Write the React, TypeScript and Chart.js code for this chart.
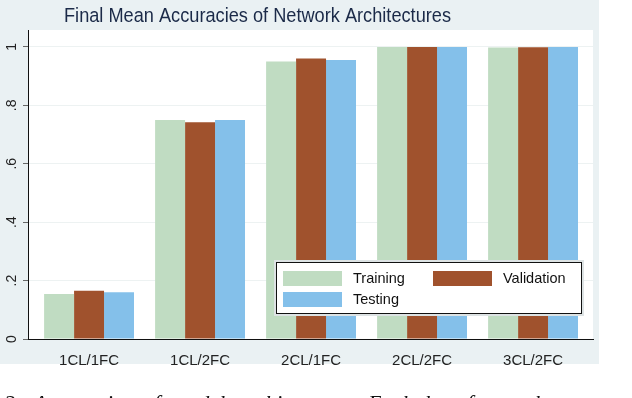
import React, { useEffect, useRef } from "react";
import { Chart, registerables } from "chart.js";

Chart.register(...registerables);

const categories = ["1CL/1FC", "1CL/2FC", "2CL/1FC", "2CL/2FC", "3CL/2FC"];
const training = [0.154, 0.75, 0.95, 1.0, 0.998];
const validation = [0.165, 0.742, 0.96, 1.0, 0.999];
const testing = [0.16, 0.75, 0.955, 1.0, 1.0];
const yTicks = [0, 0.2, 0.4, 0.6, 0.8, 1];
const yTickLabels = ["0", ".2", ".4", ".6", ".8", "1"];
const seriesNames = ["Training", "Validation", "Testing"];
const seriesColors = ["#c0dcc2", "#a0522d", "#84c0ea"];
const titleText = "Final Mean Accuracies of Network Architectures";
const captionText = "2: Accuracies of model architectures. Each bar for each";

const FONT = "'Liberation Sans', Arial, sans-serif";

const decorPlugin = {
  id: "decor",
  beforeDraw(chart: any) {
    const { ctx, chartArea } = chart;
    ctx.save();
    ctx.fillStyle = "#ffffff";
    ctx.fillRect(0, 0, chart.width, chart.height);
    ctx.fillStyle = "#eaf1f3";
    ctx.fillRect(0, 0, chartArea.right + 6, chartArea.bottom + 25);
    ctx.fillStyle = "#ffffff";
    ctx.fillRect(chartArea.left, chartArea.top, chartArea.right - chartArea.left, chartArea.bottom - chartArea.top);
    ctx.restore();
  },
  afterDraw(chart: any) {
    const { ctx, chartArea } = chart;
    const yScale = chart.scales.y;
    ctx.save();
    // title (slightly condensed like the original)
    ctx.fillStyle = "#1b2a48";
    ctx.font = `20.5px ${FONT}`;
    ctx.textAlign = "center";
    ctx.textBaseline = "middle";
    const tw = ctx.measureText(titleText).width;
    const sx = 387 / tw;
    ctx.save();
    ctx.translate((chartArea.left + chartArea.right) / 2 - 53, 16);
    ctx.scale(sx, 1);
    ctx.fillText(titleText, 0, 0);
    ctx.restore();
    // y tick labels rotated
    ctx.fillStyle = "#222";
    ctx.font = `14px ${FONT}`;
    yTicks.forEach((v, i) => {
      const py = yScale.getPixelForValue(v);
      ctx.save();
      ctx.translate(chartArea.left - 16, py);
      ctx.rotate(-Math.PI / 2);
      ctx.textAlign = "center";
      ctx.textBaseline = "middle";
      ctx.fillText(yTickLabels[i], 0, 0);
      ctx.restore();
    });
    // legend
    const bx = chartArea.right - 317;
    const by = chartArea.bottom - 77;
    const bw = 306;
    const bh = 52;
    ctx.fillStyle = "#dde3e4";
    ctx.fillRect(bx - 2, by - 2, bw + 4, bh + 4);
    ctx.fillStyle = "#ffffff";
    ctx.fillRect(bx, by, bw, bh);
    ctx.strokeStyle = "#111";
    ctx.lineWidth = 1;
    ctx.strokeRect(bx + 0.5, by + 0.5, bw - 1, bh - 1);
    const items = [
      { x: bx + 7, y: by + 9 },
      { x: bx + 157, y: by + 9 },
      { x: bx + 7, y: by + 30 },
    ];
    ctx.font = `14.5px ${FONT}`;
    ctx.textAlign = "left";
    ctx.textBaseline = "middle";
    items.forEach((it, i) => {
      ctx.fillStyle = seriesColors[i];
      ctx.fillRect(it.x, it.y, 59, 15);
      ctx.fillStyle = "#111";
      ctx.fillText(seriesNames[i], it.x + 70, it.y + 8);
    });
    ctx.restore();
  },
};

export default function App() {
  const ref = useRef<HTMLCanvasElement | null>(null);
  useEffect(() => {
    document.body.style.margin = "0";
    const toPts = (arr: number[]) => arr.map((v, i) => ({ x: i, y: v }));
    const chart = new Chart(ref.current as HTMLCanvasElement, {
      type: "bar",
      data: {
        datasets: [
          { label: seriesNames[0], data: toPts(training), backgroundColor: seriesColors[0] },
          { label: seriesNames[1], data: toPts(validation), backgroundColor: seriesColors[1] },
          { label: seriesNames[2], data: toPts(testing), backgroundColor: seriesColors[2] },
        ],
      },
      options: {
        animation: false,
        responsive: false,
        devicePixelRatio: 1,
        layout: { padding: { top: 30, right: 39, left: 0, bottom: 0 } },
        datasets: { bar: { categoryPercentage: 0.81, barPercentage: 1.0 } },
        plugins: { legend: { display: false }, title: { display: false }, tooltip: { enabled: false } },
        scales: {
          x: {
            type: "linear",
            min: -0.55,
            max: 4.54,
            offset: false,
            grid: { display: false },
            border: { display: true, color: "#111", width: 1 },
            ticks: {
              stepSize: 1,
              includeBounds: false,
              autoSkip: false,
              maxRotation: 0,
              padding: 5,
              color: "#222",
              font: { family: FONT, size: 15 },
              callback: (v: any) => categories[Math.round(Number(v))] ?? "",
            },
            afterFit: (s: any) => { s.height = 59; },
          },
          y: {
            min: 0,
            max: 1.058,
            grid: { color: "#edf2f2", tickLength: 5, tickColor: "#666", lineWidth: 1 },
            border: { display: true, color: "#111", width: 1 },
            ticks: {
              stepSize: 0.2,
              includeBounds: false,
              color: "rgba(0,0,0,0)",
              font: { family: FONT, size: 14 },
              callback: (v: any) => String(v),
            },
            afterFit: (s: any) => { s.width = 28; },
          },
        },
      },
      plugins: [decorPlugin],
    } as any);
    return () => chart.destroy();
  }, []);
  return (
    <div style={{ position: "relative", width: 632, height: 398, overflow: "hidden", background: "#fff" }}>
      <canvas ref={ref} width={632} height={398} style={{ width: 632, height: 398, display: "block" }} />
      <div
        style={{
          position: "absolute",
          left: 4,
          top: 392,
          fontFamily: "'Liberation Serif', serif",
          fontStyle: "italic",
          fontSize: 22,
          lineHeight: "22px",
          whiteSpace: "nowrap",
          wordSpacing: 6,
          color: "#111",
        }}
      >
        {captionText}
      </div>
    </div>
  );
}
